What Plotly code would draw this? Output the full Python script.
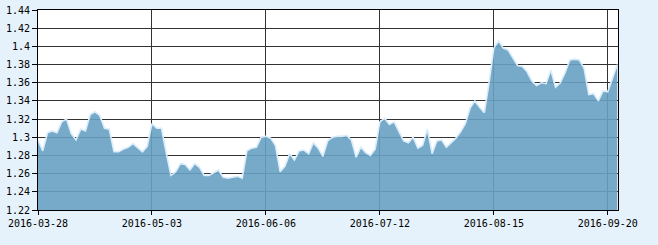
import pandas as pd
import plotly.graph_objects as go

# Trading days (Chinese market holidays excluded)
holidays = ["2016-04-04", "2016-05-02", "2016-06-09", "2016-06-10", "2016-09-15", "2016-09-16"]
all_days = pd.bdate_range("2016-03-28", "2016-09-22")
dates = [d.strftime("%Y-%m-%d") for d in all_days if d.strftime("%Y-%m-%d") not in holidays]

values = [
    1.297, 1.285, 1.305, 1.307, 1.305, 1.317, 1.320, 1.304, 1.297, 1.309,
    1.307, 1.325, 1.328, 1.324, 1.310, 1.309, 1.284, 1.284, 1.287, 1.289,
    1.293, 1.289, 1.284, 1.290, 1.315, 1.310, 1.310, 1.283, 1.258, 1.262,
    1.271, 1.270, 1.264, 1.271, 1.267, 1.258, 1.258, 1.261, 1.264, 1.256,
    1.255, 1.256, 1.257, 1.255, 1.285, 1.288, 1.289, 1.300, 1.301, 1.299,
    1.291, 1.262, 1.268, 1.282, 1.275, 1.285, 1.286, 1.282, 1.294, 1.288,
    1.279, 1.296, 1.300, 1.301, 1.301, 1.302, 1.297, 1.278, 1.289, 1.283,
    1.280, 1.287, 1.317, 1.321, 1.314, 1.317, 1.306, 1.296, 1.294, 1.300,
    1.288, 1.291, 1.309, 1.282, 1.296, 1.297, 1.289, 1.294, 1.299, 1.306,
    1.315, 1.332, 1.340, 1.333, 1.327, 1.360, 1.398, 1.406, 1.398, 1.396,
    1.387, 1.379, 1.378, 1.372, 1.362, 1.357, 1.360, 1.359, 1.374, 1.355,
    1.360, 1.371, 1.385, 1.386, 1.385, 1.376, 1.347, 1.348, 1.340, 1.351,
    1.350, 1.365, 1.380,
]

x_tick_labels = ["2016-03-28", "2016-05-03", "2016-06-06", "2016-07-12", "2016-08-15", "2016-09-20"]
y_ticks = [1.22, 1.24, 1.26, 1.28, 1.30, 1.32, 1.34, 1.36, 1.38, 1.40, 1.42, 1.44]

fig = go.Figure()
fig.add_trace(go.Scatter(
    x=dates, y=values, mode="lines", fill="tozeroy",
    line=dict(color="#d8ecfb", width=1.6),
    fillcolor="rgba(104,160,194,0.9)",
    hoverinfo="x+y",
))

font = dict(family="DejaVu Sans Mono, Liberation Mono, monospace", size=10, color="#000000")
fig.update_layout(
    width=658, height=245,
    margin=dict(l=38, r=40, t=10, b=35),
    paper_bgcolor="#e6f2fb",
    plot_bgcolor="#ffffff",
    showlegend=False,
    font=font,
    xaxis=dict(
        type="category",
        range=[0, len(dates) - 1 + 0.15],
        tickmode="array", tickvals=x_tick_labels, ticktext=x_tick_labels,
        showgrid=True, gridcolor="#333333", gridwidth=1,
        showline=True, linecolor="#000000", linewidth=1, mirror=True,
        ticks="outside", ticklen=4, tickcolor="#000000",
        tickfont=font, zeroline=False, automargin=False,
    ),
    yaxis=dict(
        range=[1.22, 1.44],
        tickmode="array", tickvals=y_ticks,
        ticktext=[("%.2f" % v).rstrip("0") for v in y_ticks],
        showgrid=True, gridcolor="#333333", gridwidth=1,
        showline=True, linecolor="#000000", linewidth=1, mirror=True,
        ticks="outside", ticklen=5, tickcolor="#000000",
        tickfont=font, zeroline=False, automargin=False,
    ),
)

fig.write_html("out.html")
